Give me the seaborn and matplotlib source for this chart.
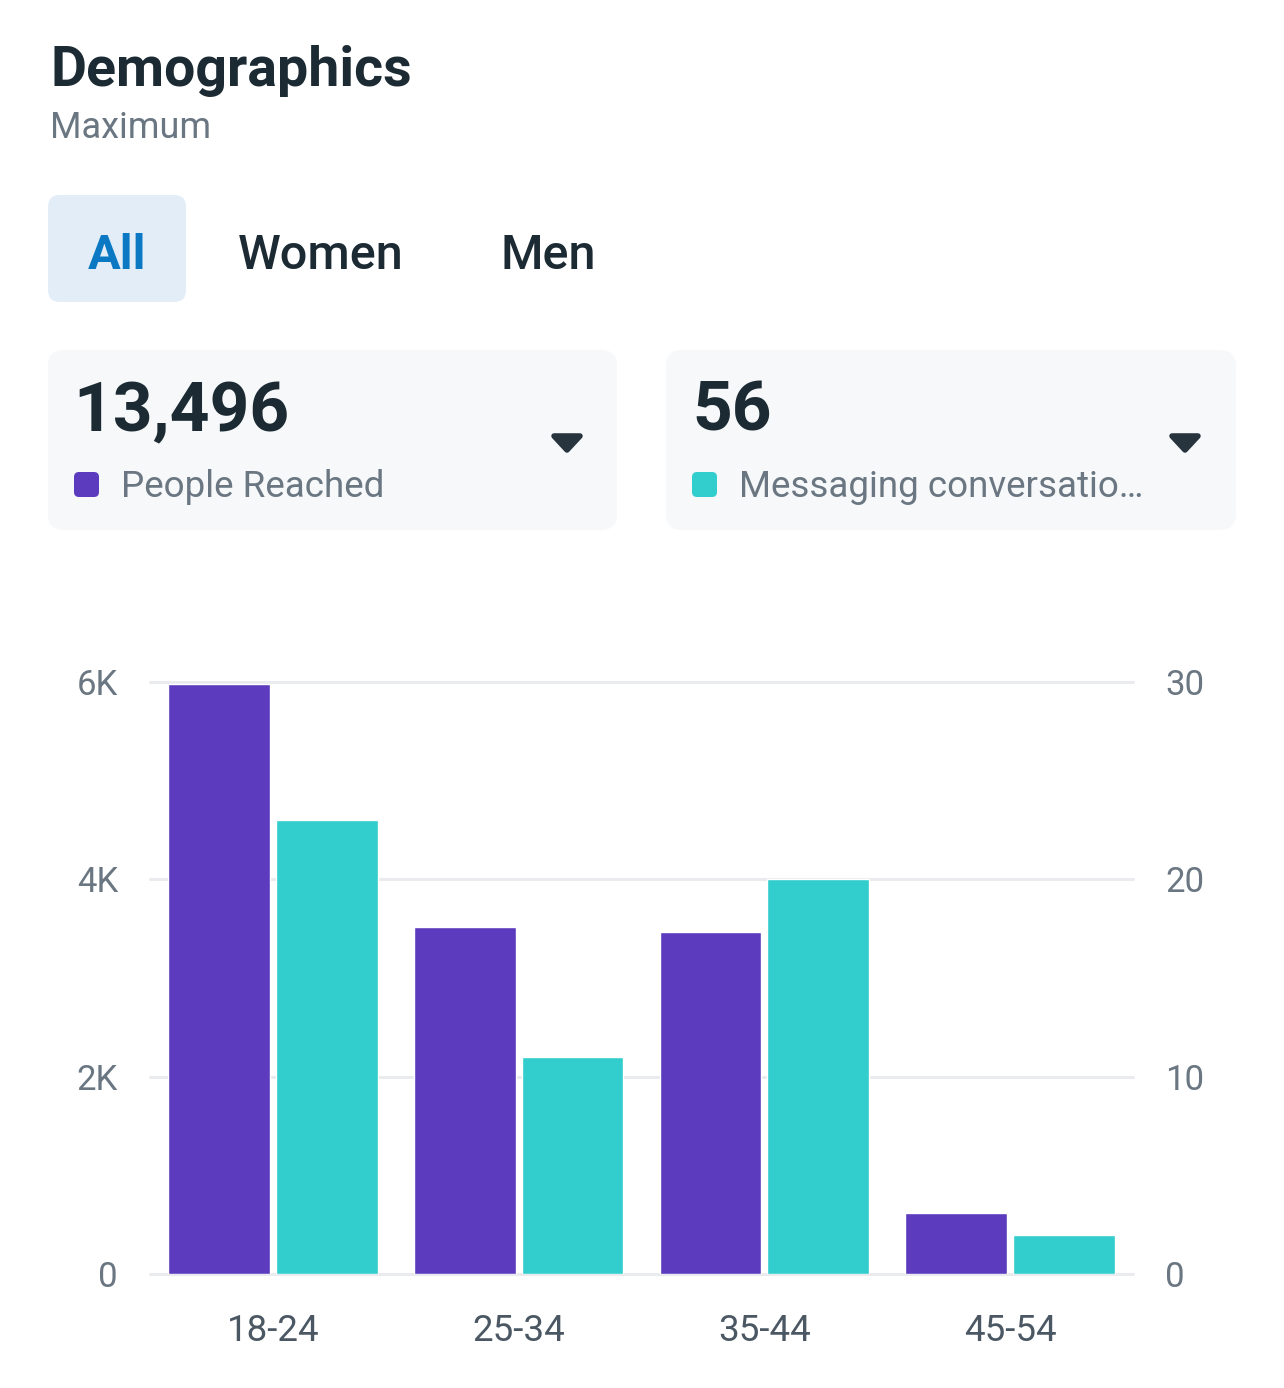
import matplotlib
matplotlib.use("Agg")
import matplotlib.pyplot as plt
from matplotlib.patches import FancyBboxPatch, Polygon
from matplotlib.transforms import IdentityTransform
import seaborn as sns
import pandas as pd

# chart values
age_groups = ["18-24", "25-34", "35-44", "45-54"]
people_reached = [5980, 3520, 3465, 620]
messaging_convs = [23, 11, 20, 2]
left_ticks = [0, 2000, 4000, 6000]
left_tick_labels = ["0", "2K", "4K", "6K"]
right_ticks = [0, 10, 20, 30]
right_tick_labels = ["0", "10", "20", "30"]
tabs = ["All", "Women", "Men"]
total_reached = "13,496"
total_messaging = "56"

PURPLE = "#5C3BBE"
TEAL = "#32CDCD"
DARK = "#1C2B33"
GRAY = "#6A7681"
GRID = "#E9EBEE"
CARD = "#F6F8FA"

W, H = 1284, 1388

sns.set_style("white")
plt.rcParams["font.family"] = ["Roboto", "DejaVu Sans"]

fig = plt.figure(figsize=(W / 100, H / 100), dpi=100)
fig.patch.set_facecolor("white")


def fx(x):
    return x / W


def fy(y):
    return 1 - y / H


def box(x0, y0, x1, y1, color, r):
    # pixel coords measured from the top-left
    p = FancyBboxPatch((x0, H - y1), x1 - x0, y1 - y0,
                       boxstyle=f"round,pad=0,rounding_size={r}",
                       transform=IdentityTransform(), facecolor=color,
                       edgecolor="none")
    fig.add_artist(p)


def caret(cx, ytop):
    pts = [(cx - 13, H - ytop - 2), (cx + 13, H - ytop - 2), (cx, H - ytop - 16)]
    p = Polygon(pts, closed=True, transform=IdentityTransform(),
                facecolor="#27343E", edgecolor="#27343E", lw=4, joinstyle="round")
    fig.add_artist(p)


# header
fig.text(fx(50), fy(86), "Demographics", fontsize=40, fontweight="bold",
         color=DARK, va="baseline")
fig.text(fx(50), fy(138), "Maximum", fontsize=26, color=GRAY, va="baseline")

# tabs
box(48, 195, 186, 302, "#E2EDF7", 12)
fig.text(fx(117), fy(269), tabs[0], fontsize=35, fontweight="bold",
         color="#0A78C2", ha="center", va="baseline")
fig.text(fx(238), fy(269), tabs[1], fontsize=35, fontweight="medium",
         color=DARK, va="baseline")
fig.text(fx(500), fy(269), tabs[2], fontsize=35, fontweight="medium",
         color=DARK, va="baseline")

# metric cards
box(48, 350, 617, 530, CARD, 16)
box(666, 350, 1236, 530, CARD, 16)
fig.text(fx(73), fy(431), total_reached, fontsize=50, fontweight="bold",
         color=DARK, va="baseline")
fig.text(fx(692), fy(431), total_messaging, fontsize=50, fontweight="bold",
         color=DARK, va="baseline")
box(74, 472, 99, 497, PURPLE, 5)
box(692, 472, 717, 497, TEAL, 5)
fig.text(fx(121), fy(497), "People Reached", fontsize=26.5, color=GRAY,
         va="baseline")
fig.text(fx(739), fy(497), "Messaging conversatio\u2026", fontsize=26.5,
         color=GRAY, va="baseline")
caret(567, 434)
caret(1185, 434)

# bar chart, two y scales
hue_order = ["People Reached", "Messaging conversations"]
palette = dict(zip(hue_order, [PURPLE, TEAL]))
reach_df = pd.DataFrame({"age": age_groups, "value": people_reached,
                         "metric": hue_order[0]})
msg_df = pd.DataFrame({"age": age_groups, "value": messaging_convs,
                       "metric": hue_order[1]})

ax = fig.add_axes([fx(150), 1 - 1274 / H, (1133 - 150) / W, (1274 - 682) / H])
ax2 = ax.twinx()

common = dict(x="age", y="value", hue="metric", hue_order=hue_order,
              order=age_groups, palette=palette, width=0.878, gap=0.056,
              dodge=True, saturation=1, errorbar=None, legend=False)
sns.barplot(data=reach_df, ax=ax, zorder=2, **common)
sns.barplot(data=msg_df, ax=ax2, zorder=2, **common)

for v in left_ticks:
    ax.axhline(v, color=GRID, lw=2.2, zorder=0.5, clip_on=False)

ax.set_ylim(0, 6000)
ax2.set_ylim(0, 30)
ax.set_xlim(-0.5, len(age_groups) - 0.5)
ax.set_yticks(left_ticks, left_tick_labels)
ax2.set_yticks(right_ticks, right_tick_labels)

ax.tick_params(axis="y", length=0, pad=23, labelsize=25, labelcolor=GRAY)
ax2.tick_params(axis="y", length=0, pad=23, labelsize=25, labelcolor=GRAY)
ax.tick_params(axis="x", length=0, pad=28, labelsize=26.5, labelcolor="#4B5864")
ax.set_xlabel("")
ax.set_ylabel("")
ax2.set_xlabel("")
ax2.set_ylabel("")
ax.grid(False)
ax2.grid(False)
for a in (ax, ax2):
    for s in a.spines.values():
        s.set_visible(False)

fig.savefig("out.png", dpi=100, facecolor="white")
